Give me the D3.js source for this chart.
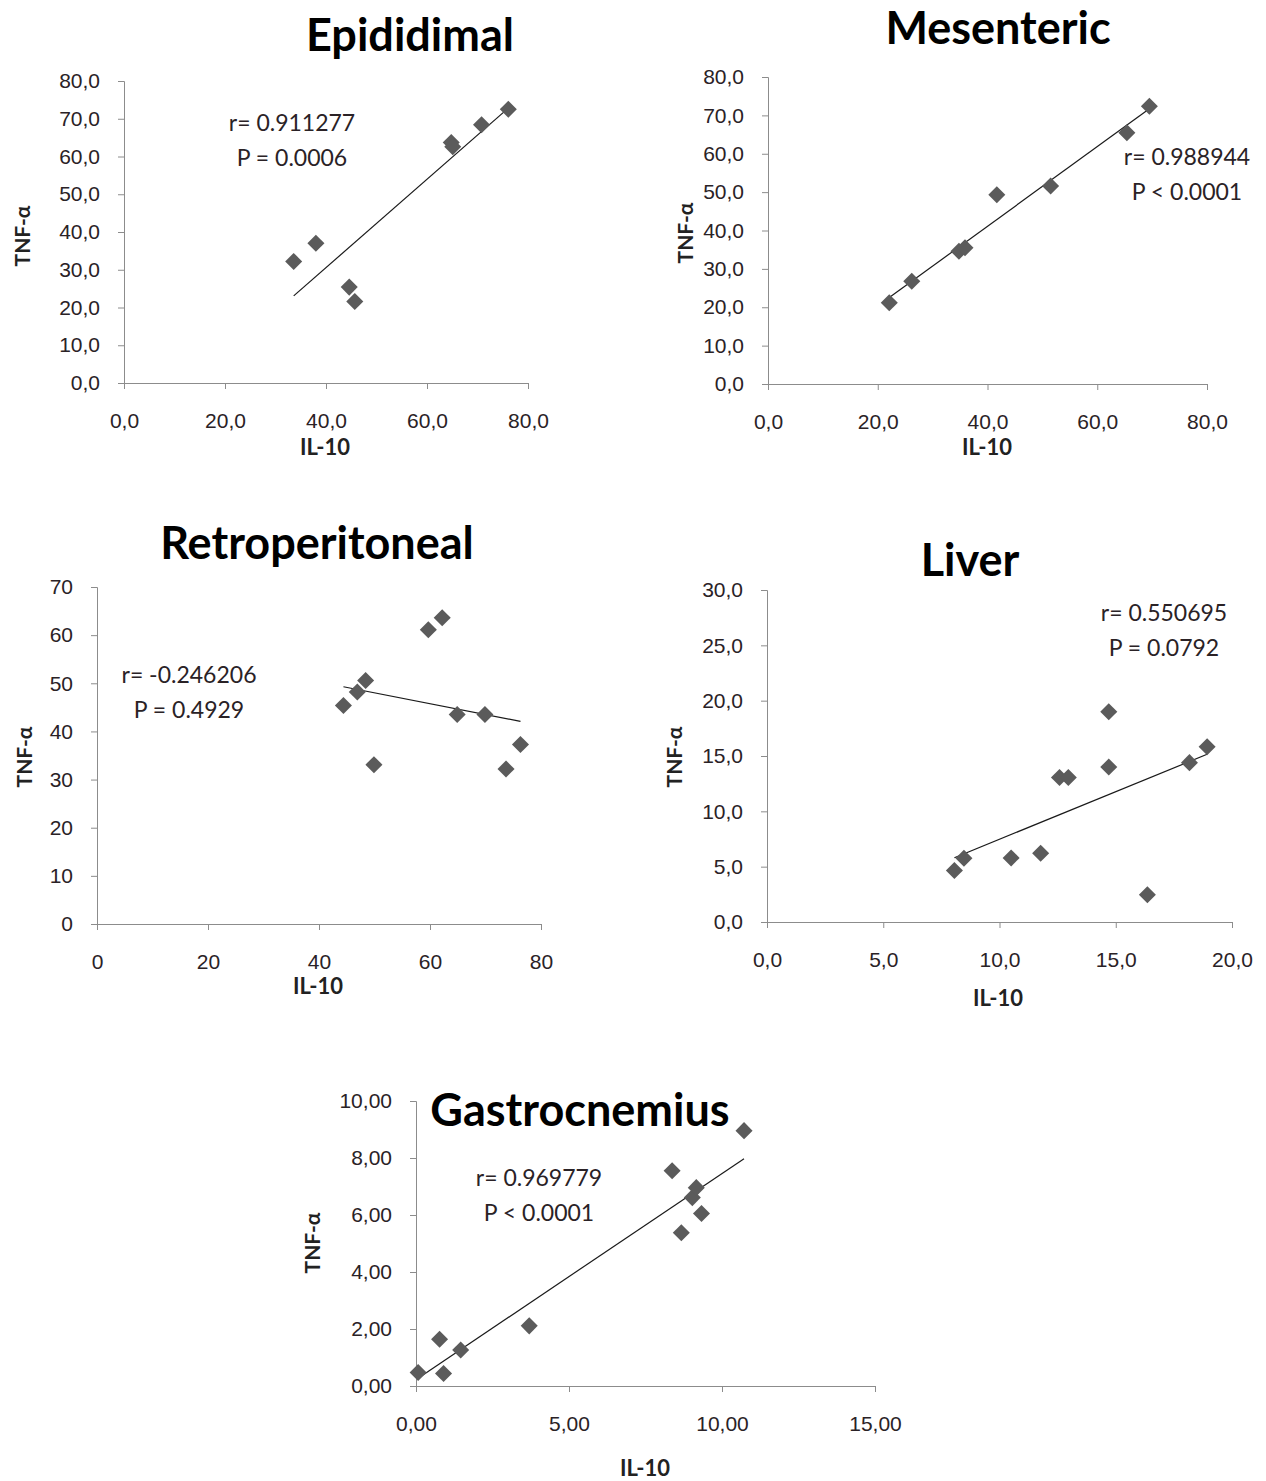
<!DOCTYPE html>
<html>
<head>
<meta charset="utf-8">
<script src="https://cdn.jsdelivr.net/npm/d3@7"></script>
<style>
  body { margin: 0; background: #fff; }
  svg { font-family: Lato, "Open Sans", sans-serif; }
  .tick text { fill: #2a2226; }
  .domain, .tick line { stroke: #8c8c8c; }
</style>
</head>
<body>
<div id="chart"></div>
<script>
// IL-10 (x) and TNF-alpha (y) per tissue
var epiX = [33.6, 38.0, 44.6, 45.7, 64.8, 65.1, 70.8, 76.1];
var epiY = [32.2, 37.0, 25.4, 21.6, 63.7, 62.6, 68.4, 72.5];

var mesX = [22.1, 26.2, 34.8, 35.9, 41.7, 51.5, 65.4, 69.5];
var mesY = [21.2, 26.8, 34.6, 35.5, 49.3, 51.6, 65.5, 72.4];

var retX = [44.4, 46.9, 48.4, 49.9, 59.7, 62.2, 64.9, 69.9, 73.7, 76.3];
var retY = [45.4, 48.2, 50.6, 33.1, 61.1, 63.6, 43.5, 43.5, 32.2, 37.3];

var livX = [8.06, 8.47, 10.5, 11.77, 12.58, 12.96, 14.7, 14.7, 16.36, 18.17, 18.93];
var livY = [4.65, 5.76, 5.79, 6.21, 13.05, 13.05, 19.0, 14.0, 2.46, 14.4, 15.84];

var gasX = [0.07, 0.77, 0.90, 1.46, 3.70, 8.37, 8.67, 9.03, 9.16, 9.33, 10.72];
var gasY = [0.47, 1.64, 0.44, 1.26, 2.11, 7.55, 5.38, 6.61, 6.96, 6.05, 8.96];

// tick values
var ticks80 = [0, 20, 40, 60, 80];
var ticks80y = [0, 10, 20, 30, 40, 50, 60, 70, 80];
var ticks70y = [0, 10, 20, 30, 40, 50, 60, 70];
var ticks20 = [0, 5, 10, 15, 20];
var ticks30y = [0, 5, 10, 15, 20, 25, 30];
var ticks15 = [0, 5, 10, 15];
var ticks10y = [0, 2, 4, 6, 8, 10];

var titles = ["Epididimal", "Mesenteric", "Retroperitoneal", "Liver", "Gastrocnemius"];
var rTexts = ["r=  0.911277", "r=  0.988944", "r= -0.246206", "r= 0.550695", "r= 0.969779"];
var pTexts = ["P = 0.0006", "P < 0.0001", "P = 0.4929", "P = 0.0792", "P < 0.0001"];

function comma(dec) {
  return function (d) { return d.toFixed(dec).replace(".", ","); };
}

var w = 1266;
var h = 1481;

var svg = d3.select("#chart").append("svg")
  .attr("width", w)
  .attr("height", h);

function drawPanel(p) {
  var x = d3.scaleLinear().domain(p.xDomain).range([p.left, p.right]);
  var y = d3.scaleLinear().domain(p.yDomain).range([p.bottom, p.top]);

  var g = svg.append("g");

  g.append("g")
    .attr("transform", "translate(0," + p.bottom + ")")
    .call(d3.axisBottom(x).tickValues(p.xTicks).tickFormat(p.xFmt).tickSize(6).tickPadding(24))
    .call(function (a) { a.selectAll("text").attr("font-size", 21); });

  g.append("g")
    .attr("transform", "translate(" + p.left + ",0)")
    .call(d3.axisLeft(y).tickValues(p.yTicks).tickFormat(p.yFmt).tickSize(6).tickPadding(18))
    .call(function (a) { a.selectAll("text").attr("font-size", 21); });

  g.selectAll(".domain").attr("stroke", "#8c8c8c");

  // least squares trendline over the data range
  var pts = p.xs.map(function (v, i) { return [v, p.ys[i]]; });
  var mx = d3.mean(p.xs), my = d3.mean(p.ys);
  var sxy = d3.sum(pts, function (d) { return (d[0] - mx) * (d[1] - my); });
  var sxx = d3.sum(p.xs, function (v) { return (v - mx) * (v - mx); });
  var slope = sxy / sxx;
  var icpt = my - slope * mx;
  var x0 = d3.min(p.xs), x1 = d3.max(p.xs);

  g.append("line")
    .attr("x1", x(x0)).attr("y1", y(icpt + slope * x0))
    .attr("x2", x(x1)).attr("y2", y(icpt + slope * x1))
    .attr("stroke", "#1a1a1a")
    .attr("stroke-width", 1.2);

  g.selectAll(".pt")
    .data(pts)
    .enter()
    .append("path")
    .attr("class", "pt")
    .attr("d", d3.symbol().type(d3.symbolDiamond2).size(185))
    .attr("transform", function (d) { return "translate(" + x(d[0]) + "," + y(d[1]) + ")"; })
    .attr("fill", "#5b5b5b");

  g.append("text")
    .attr("x", p.titleX).attr("y", p.titleY)
    .attr("text-anchor", "middle")
    .attr("font-size", 45)
    .attr("font-weight", "bold")
    .attr("fill", "#000")
    .text(p.title);

  g.append("text")
    .attr("x", p.annX).attr("y", p.annY)
    .attr("text-anchor", "middle")
    .attr("font-size", 23)
    .attr("fill", "#2a2226")
    .text(p.rText);

  g.append("text")
    .attr("x", p.annX).attr("y", p.annY + 35)
    .attr("text-anchor", "middle")
    .attr("font-size", 23)
    .attr("fill", "#2a2226")
    .text(p.pText);

  g.append("text")
    .attr("x", p.xLabX).attr("y", p.xLabY)
    .attr("text-anchor", "middle")
    .attr("font-size", 22)
    .attr("font-weight", "bold")
    .attr("fill", "#222")
    .text("IL-10");

  g.append("text")
    .attr("transform", "translate(" + p.yLabX + "," + p.yLabY + ") rotate(-90)")
    .attr("text-anchor", "middle")
    .attr("font-size", 21)
    .attr("font-weight", "bold")
    .attr("fill", "#222")
    .text("TNF-\u03b1");
}

drawPanel({
  xs: epiX, ys: epiY, title: titles[0], rText: rTexts[0], pText: pTexts[0],
  left: 124, right: 528, top: 81, bottom: 383,
  xDomain: [0, 80], yDomain: [0, 80], xTicks: ticks80, yTicks: ticks80y,
  xFmt: comma(1), yFmt: comma(1),
  titleX: 410, titleY: 51, annX: 292, annY: 131,
  xLabX: 325, xLabY: 455, yLabX: 30, yLabY: 236
});

drawPanel({
  xs: mesX, ys: mesY, title: titles[1], rText: rTexts[1], pText: pTexts[1],
  left: 768, right: 1207, top: 77, bottom: 384,
  xDomain: [0, 80], yDomain: [0, 80], xTicks: ticks80, yTicks: ticks80y,
  xFmt: comma(1), yFmt: comma(1),
  titleX: 998, titleY: 44, annX: 1187, annY: 165,
  xLabX: 987, xLabY: 455, yLabX: 693, yLabY: 233
});

drawPanel({
  xs: retX, ys: retY, title: titles[2], rText: rTexts[2], pText: pTexts[2],
  left: 97, right: 541, top: 587, bottom: 924,
  xDomain: [0, 80], yDomain: [0, 70], xTicks: ticks80, yTicks: ticks70y,
  xFmt: comma(0), yFmt: comma(0),
  titleX: 317, titleY: 559, annX: 189, annY: 683,
  xLabX: 318, xLabY: 994, yLabX: 32, yLabY: 757
});

drawPanel({
  xs: livX, ys: livY, title: titles[3], rText: rTexts[3], pText: pTexts[3],
  left: 767, right: 1232, top: 590, bottom: 922,
  xDomain: [0, 20], yDomain: [0, 30], xTicks: ticks20, yTicks: ticks30y,
  xFmt: comma(1), yFmt: comma(1),
  titleX: 970, titleY: 576, annX: 1164, annY: 621,
  xLabX: 998, xLabY: 1006, yLabX: 682, yLabY: 757
});

drawPanel({
  xs: gasX, ys: gasY, title: titles[4], rText: rTexts[4], pText: pTexts[4],
  left: 416, right: 875, top: 1101, bottom: 1386,
  xDomain: [0, 15], yDomain: [0, 10], xTicks: ticks15, yTicks: ticks10y,
  xFmt: comma(2), yFmt: comma(2),
  titleX: 580, titleY: 1126, annX: 539, annY: 1186,
  xLabX: 645, xLabY: 1476, yLabX: 320, yLabY: 1243
});
</script>
</body>
</html>
